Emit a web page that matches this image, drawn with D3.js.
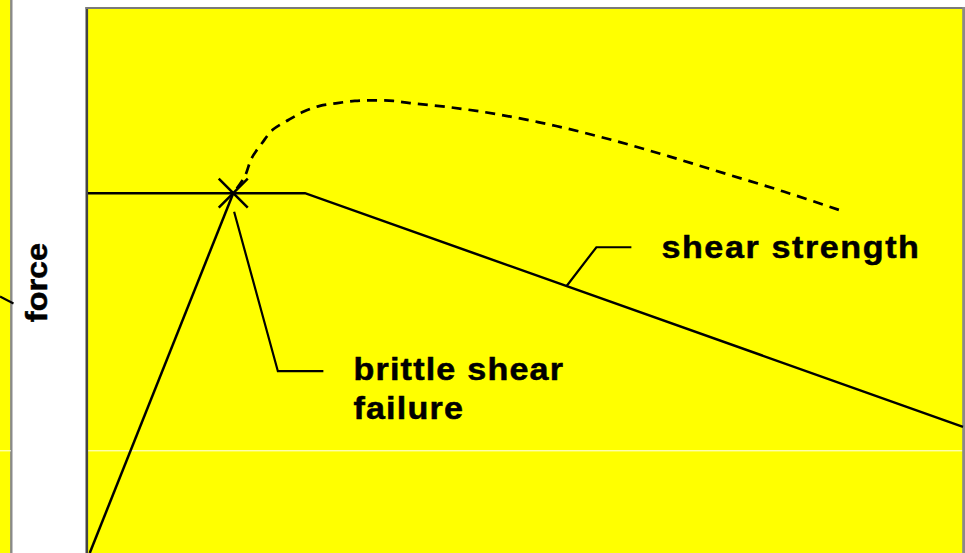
<!DOCTYPE html>
<html>
<head>
<meta charset="utf-8">
<script src="https://cdn.jsdelivr.net/npm/d3@7"></script>
<style>
  html, body { margin: 0; padding: 0; background: #ffffff; overflow: hidden; }
  svg { display: block; }
  text { font-family: "Liberation Sans", Arial, sans-serif; font-weight: bold; fill: #000; stroke: #000; stroke-width: 0.5px; }
</style>
</head>
<body>
<svg id="chart" width="965" height="553"></svg>
<script>
// ---- data (chart units: displacement 0..100, force 0..100) ----
const strengthX = [0, 24.8, 100];
const strengthY = [65.9, 65.9, 23.1];

const demandX = [0.2, 16.6];
const demandY = [0, 65.9];

const ductileX = [16.6, 17.9, 18.7, 19.9, 21.1, 22.9, 24.6, 26.5, 28.5, 30.5, 32.6, 34.9, 36.8, 41.5, 47.0, 53.5, 60.0, 66.5, 73.0, 79.5, 85.9];
const ductileY = [65.9, 68.9, 72.3, 75.1, 77.5, 79.3, 80.8, 81.9, 82.4, 82.8, 82.9, 82.8, 82.4, 81.6, 80.3, 78.2, 75.6, 72.6, 69.4, 66.2, 62.8];

const failureX = [16.6];
const failureY = [65.9];

const strengthLeaderX = [54.7, 58.1, 62.1];
const strengthLeaderY = [48.9, 56.0, 56.0];

const failureLeaderX = [16.7, 21.7, 26.9];
const failureLeaderY = [62.5, 33.3, 33.3];

const strengthLabel = ["shear strength"];
const failureLabel = ["brittle shear", "failure"];
const yAxisLabel = "force";

// ---- layout ----
const W = 965, H = 553;
const plot = { left: 88, right: 963, top: 8, bottom: 553 };

const svg = d3.select("#chart");

const x = d3.scaleLinear().domain([0, 100]).range([plot.left, plot.right]);
const y = d3.scaleLinear().domain([0, 100]).range([553, 7]);

// background panels
svg.append("rect").attr("x", 0).attr("y", 0).attr("width", 11).attr("height", H).attr("fill", "#ffff00");
svg.append("line").attr("x1", 11.3).attr("x2", 11.3).attr("y1", 0).attr("y2", H)
  .attr("stroke", "#8a8a8a").attr("stroke-width", 2.4);
// small fragment of neighbouring panel line
svg.append("line").attr("x1", 0).attr("y1", 296.5).attr("x2", 13.5).attr("y2", 303.5)
  .attr("stroke", "#000").attr("stroke-width", 2);

// plot area
svg.append("rect").attr("x", plot.left).attr("y", plot.top)
  .attr("width", plot.right - plot.left).attr("height", plot.bottom - plot.top)
  .attr("fill", "#ffff00");

// faint white gridline
svg.append("line").attr("x1", 0).attr("x2", 11).attr("y1", 450.8).attr("y2", 450.8)
  .attr("stroke", "#fffff0").attr("stroke-width", 1);
svg.append("line").attr("x1", plot.left).attr("x2", plot.right).attr("y1", 450.8).attr("y2", 450.8)
  .attr("stroke", "#fffff0").attr("stroke-width", 1);

// frame
svg.append("line").attr("x1", 86.8).attr("x2", 86.8).attr("y1", 7).attr("y2", H)
  .attr("stroke", "#444").attr("stroke-width", 2.6);
svg.append("line").attr("x1", 85.5).attr("x2", W).attr("y1", 8).attr("y2", 8)
  .attr("stroke", "#7a7a7a").attr("stroke-width", 2);
svg.append("line").attr("x1", 963.6).attr("x2", 963.6).attr("y1", 7).attr("y2", H)
  .attr("stroke", "#8a8a8a").attr("stroke-width", 2.8);

const line = d3.line().x(d => x(d[0])).y(d => y(d[1]));
const curve = d3.line().x(d => x(d[0])).y(d => y(d[1])).curve(d3.curveCatmullRom.alpha(0.5));

const g = svg.append("g");

// shear strength
g.append("path").attr("d", line(d3.zip(strengthX, strengthY)))
  .attr("fill", "none").attr("stroke", "#000").attr("stroke-width", 2.5);

// demand (elastic)
g.append("path").attr("d", line(d3.zip(demandX, demandY)))
  .attr("fill", "none").attr("stroke", "#000").attr("stroke-width", 2.5);

// ductile (dashed) response
g.append("path").attr("d", curve(d3.zip(ductileX, ductileY)))
  .attr("fill", "none").attr("stroke", "#000").attr("stroke-width", 2.7)
  .attr("stroke-dasharray", "10,7").attr("stroke-dashoffset", -6);

// failure marker X
const fx = x(failureX[0]), fy = y(failureY[0]);
const s = 14.5;
g.append("path")
  .attr("d", `M${fx - s},${fy - s}L${fx + s},${fy + s}M${fx - s},${fy + s}L${fx + s},${fy - s}`)
  .attr("stroke", "#000").attr("stroke-width", 2.5).attr("fill", "none");

// leaders
g.append("path").attr("d", line(d3.zip(strengthLeaderX, strengthLeaderY)))
  .attr("fill", "none").attr("stroke", "#000").attr("stroke-width", 2.2);
g.append("path").attr("d", line(d3.zip(failureLeaderX, failureLeaderY)))
  .attr("fill", "none").attr("stroke", "#000").attr("stroke-width", 2.2);

// labels (slightly wide lettering)
const sx = 1.1;
const sl = strengthLeaderX.length - 1;
svg.append("g")
  .attr("transform", `translate(${x(strengthLeaderX[sl]) + 30},${y(strengthLeaderY[sl]) + 11}) scale(${sx},1)`)
  .append("text")
  .attr("x", 0).attr("y", 0)
  .attr("font-size", 31).attr("letter-spacing", "1.45px")
  .text(strengthLabel[0]);

const fl = failureLeaderX.length - 1;
svg.append("g")
  .attr("transform", `translate(${x(failureLeaderX[fl]) + 30},${y(failureLeaderY[fl]) + 9}) scale(${sx},1)`)
  .append("text")
  .attr("font-size", 31).attr("letter-spacing", "1.1px")
  .selectAll("tspan").data(failureLabel).join("tspan")
  .attr("x", 0)
  .attr("dy", (d, i) => i === 0 ? 0 : 39)
  .text(d => d);

// y axis label
svg.append("g")
  .attr("transform", `translate(46.5,282.5) rotate(-90) scale(${sx},1)`)
  .append("text")
  .attr("text-anchor", "middle")
  .attr("font-size", 29.5)
  .text(yAxisLabel);
</script>
</body>
</html>
